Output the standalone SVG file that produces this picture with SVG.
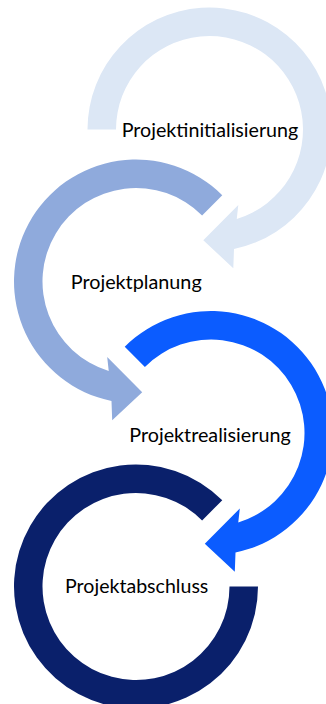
<svg xmlns="http://www.w3.org/2000/svg" width="326" height="704" viewBox="0 0 326 704">
  <style>
    .lbl { font-family: Lato, "Open Sans", "Liberation Sans", sans-serif; font-size: 18.5px; fill: #000000; text-anchor: middle; }
    .s1 { fill: #DCE7F5; }
    .s2 { fill: #8FAADC; }
    .s3 { fill: #0B5CFF; }
    .s4 { fill: #0A206B; }
  </style>
  <rect width="326" height="704" fill="#FFFFFF"/>
  <g id="step1">
    <path class="s1" d="M87.5,129.5 A122,122 0 1 1 234.01,249.01 L233.3,268.2 L203.3,240.3 L238.3,204.9 L236.76,218.94 A93.5,93.5 0 1 0 116,129.5 Z"/>
  </g>
  <g id="step2">
    <path class="s2" d="M222.27,195.23 A122,122 0 1 0 111.49,401.01 L112.2,420.2 L142.2,392.3 L107.2,356.9 L108.74,370.94 A93.5,93.5 0 1 1 202.11,215.39 Z"/>
  </g>
  <g id="step3">
    <path class="s3" d="M124.73,346.73 A122,122 0 1 1 235.51,552.51 L234.8,571.7 L204.8,543.8 L239.8,508.4 L238.26,522.44 A93.5,93.5 0 1 0 144.89,366.89 Z"/>
  </g>
  <g id="step4">
    <path class="s4" d="M222.27,500.23 A122,122 0 1 0 258,586.5 L229.5,586.5 A93.5,93.5 0 1 1 202.11,520.39 Z"/>
  </g>
  <g id="labels">
    <text class="lbl" x="210" y="137" textLength="176.6" lengthAdjust="spacingAndGlyphs">Projektinitialisierung</text>
    <text class="lbl" x="136.2" y="289.3" textLength="131" lengthAdjust="spacingAndGlyphs">Projektplanung</text>
    <text class="lbl" x="210" y="441.7" textLength="161.4" lengthAdjust="spacingAndGlyphs">Projektrealisierung</text>
    <text class="lbl" x="136.7" y="592.7" textLength="143.3" lengthAdjust="spacingAndGlyphs">Projektabschluss</text>
  </g>
  <g id="connectors"></g>
</svg>
